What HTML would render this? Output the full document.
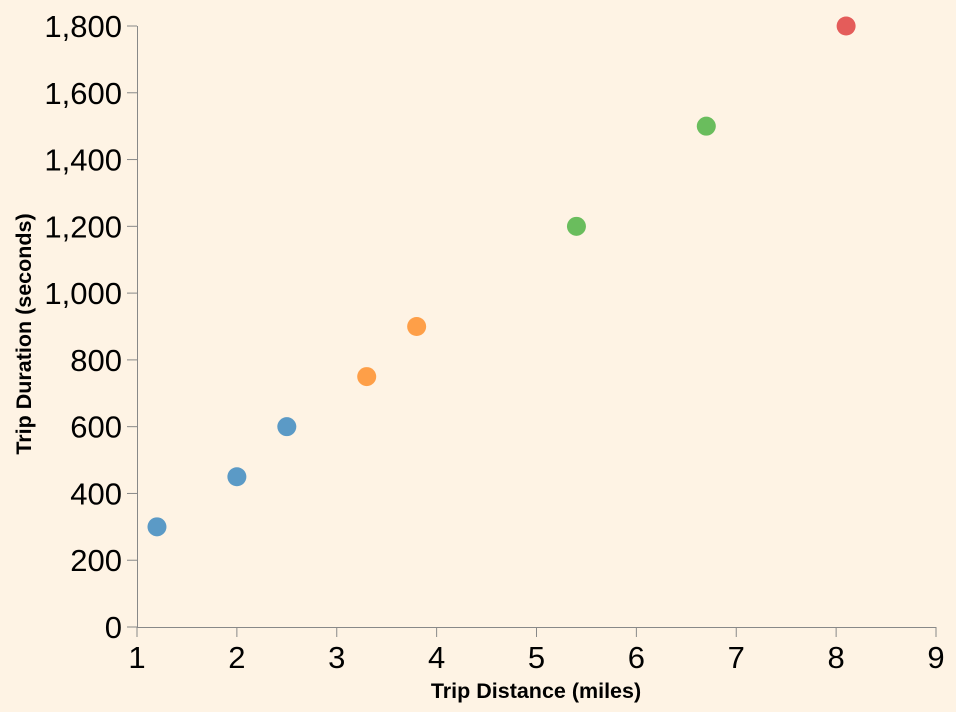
<!DOCTYPE html>
<html><head><meta charset="utf-8"><style>
body{margin:0;background:#fef3e4;}
svg{display:block;font-family:"Liberation Sans",sans-serif;}
</style></head><body>
<svg id="chart" width="956" height="712" viewBox="0 0 956 712">
<rect width="956" height="712" fill="#fef3e4"/>
<g id="axes"></g><g id="marks"></g>
<text x="536" y="698" text-anchor="middle" font-size="21.5" font-weight="bold" fill="#000">Trip Distance (miles)</text>
<text transform="translate(31,334) rotate(-90)" text-anchor="middle" font-size="21.5" font-weight="bold" fill="#000">Trip Duration (seconds)</text>
</svg>
<script>
const distances=[1.2,2,2.5,3.3,3.8,5.4,6.7,8.1];
const durations=[300,450,600,750,900,1200,1500,1800];
const groups=[0,0,0,1,1,2,2,3];
const xTicks=[1,2,3,4,5,6,7,8,9];
const yTicks=[0,200,400,600,800,1000,1200,1400,1600,1800];
const colors=["#5b9ac6","#fe9f48","#6abd5d","#e45c5a"];
const NS="http://www.w3.org/2000/svg";
const x=v=>137+(v-1)*99.875;
const y=v=>627-v*(601/1800);
const axes=document.getElementById('axes'),marks=document.getElementById('marks');
function mk(t,a,p){const e=document.createElementNS(NS,t);for(const k in a)e.setAttribute(k,a[k]);p.appendChild(e);return e;}
const xl=mk('line',{x1:137,x2:936,y1:627.5,y2:627.5,stroke:'#888'},axes);


const yl=mk('line',{x1:137.5,x2:137.5,y1:26,y2:627,stroke:'#888'},axes);


xTicks.forEach(t=>{
 mk('line',{x1:x(t),x2:x(t),y1:627,y2:637,stroke:'#888'},axes);
 const tx=mk('text',{x:x(t),y:668,'text-anchor':'middle','font-size':31,fill:'#000'},axes);
 tx.textContent=t;
 
 
});
yTicks.forEach(t=>{
 mk('line',{x1:127,x2:137,y1:y(t),y2:y(t),stroke:'#888'},axes);
 const tx=mk('text',{x:122,y:y(t)+11,'text-anchor':'end','font-size':31,fill:'#000'},axes);
 tx.textContent=t.toLocaleString('en-US');
 
 
});
distances.forEach((d,i)=>{
 const c=mk('circle',{cx:x(d),cy:y(durations[i]),r:9.5,fill:colors[groups[i]]},marks);
 
 
});
</script>
</body></html>
